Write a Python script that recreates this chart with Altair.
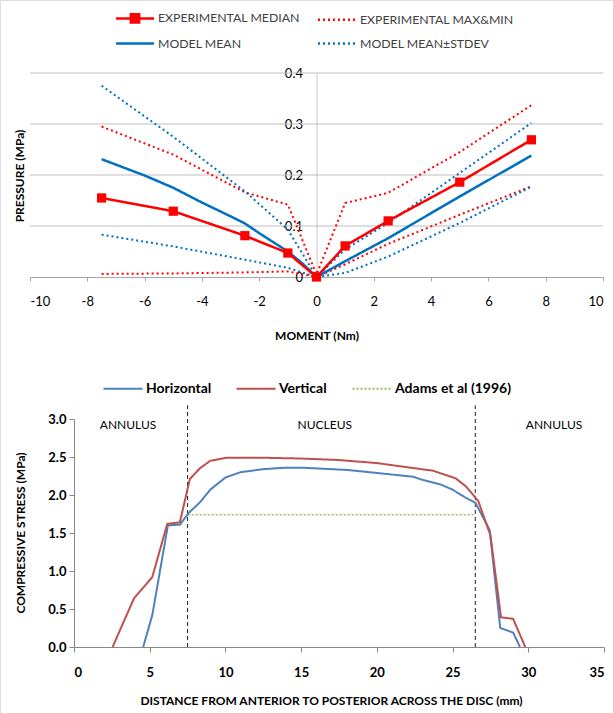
import altair as alt
import pandas as pd

# ---------------- top chart data (pressure vs moment) ----------------
moment_exp = [-7.5, -5, -2.5, -1, 0, 1, 2.5, 5, 7.5]
exp_median = [0.155, 0.129, 0.081, 0.047, 0.0, 0.061, 0.110, 0.186, 0.269]
exp_max = [0.295, 0.240, 0.166, 0.142, 0.005, 0.145, 0.165, 0.245, 0.337]
exp_min = [0.006, 0.007, 0.009, 0.011, 0.0, 0.025, 0.065, 0.122, 0.178]
moment_model = [-7.5, -6, -5, -4, -3, -2.5, -2, -1, -0.5, 0, 1, 2.5, 5, 7.5]
model_mean = [0.231, 0.199, 0.175, 0.146, 0.119, 0.105, 0.086, 0.050, 0.027, 0.0, 0.031, 0.076, 0.158, 0.238]
model_upper = [0.375, 0.275, 0.168, 0.093, 0.0, 0.054, 0.106, 0.204, 0.302]
model_lower = [0.083, 0.060, 0.034, 0.018, 0.0, 0.008, 0.040, 0.106, 0.177]

top_series = ["EXPERIMENTAL MEDIAN", "EXPERIMENTAL MAX&MIN", "MODEL MEAN", "MODEL MEAN±STDEV"]
top_colors = ["#FF0000", "#FF0000", "#0070C0", "#0070C0"]
top_dashes = [[1, 0], [2, 3], [1, 0], [2, 3]]
moment_ticks = [-10, -8, -6, -4, -2, 0, 2, 4, 6, 8, 10]
pressure_ticks = [0, 0.1, 0.2, 0.3, 0.4]
pressure_grid = [0.1, 0.2, 0.3, 0.4]

# ---------------- bottom chart data (stress across disc) ----------------
horiz_x = [4.57, 5.17, 6.2, 7.0, 7.6, 8.3, 9.0, 10.0, 11.0, 12.5, 14.0, 15.0, 18.0, 20.0,
           22.4, 23.0, 24.2, 25.0, 25.9, 26.5, 27.45, 28.15, 29.0, 29.45]
horiz_y = [0.0, 0.42, 1.60, 1.61, 1.77, 1.90, 2.07, 2.23, 2.30, 2.34, 2.36, 2.36, 2.33, 2.29,
           2.24, 2.20, 2.14, 2.07, 1.96, 1.90, 1.54, 0.25, 0.19, 0.0]
vert_x = [2.55, 3.96, 5.17, 6.16, 6.99, 7.65, 8.31, 9.0, 10.07, 12.5, 15.0, 17.5, 20.0,
          22.2, 23.7, 25.2, 25.9, 26.7, 27.5, 28.2, 29.0, 29.8]
vert_y = [0.0, 0.64, 0.92, 1.62, 1.64, 2.21, 2.35, 2.45, 2.49, 2.49, 2.48, 2.46, 2.42,
          2.36, 2.32, 2.22, 2.11, 1.92, 1.47, 0.39, 0.37, 0.0]
adams_x = [7.5, 26.5]
adams_y = [1.74, 1.74]
divider_x = [7.5, 26.5]
region_labels = ["ANNULUS", "NUCLEUS", "ANNULUS"]
region_x = [3.57, 16.56, 31.7]
region_y = [2.92, 2.92, 2.92]

bot_series = ["Horizontal", "Vertical", "Adams et al (1996)"]
bot_colors = ["#4F81BD", "#C0504D", "#9BBB59"]
bot_dashes = [[1, 0], [1, 0], [2, 2]]
dist_ticks = [0, 5, 10, 15, 20, 25, 30, 35]
stress_ticks = [0, 0.5, 1.0, 1.5, 2.0, 2.5, 3.0]

FONT = "Lato"

# ---------------- build tables ----------------
rows = []
for x, y in zip(moment_exp, exp_median):
    rows.append((x, y, top_series[0], "med"))
for x, y in zip(moment_exp, exp_max):
    rows.append((x, y, top_series[1], "max"))
for x, y in zip(moment_exp, exp_min):
    rows.append((x, y, top_series[1], "min"))
for x, y in zip(moment_model, model_mean):
    rows.append((x, y, top_series[2], "mean"))
for x, y in zip(moment_exp, model_upper):
    rows.append((x, y, top_series[3], "up"))
for x, y in zip(moment_exp, model_lower):
    rows.append((x, y, top_series[3], "low"))
df_top = pd.DataFrame(rows, columns=["moment", "pressure", "series", "line"])

rows = []
for x, y in zip(horiz_x, horiz_y):
    rows.append((x, y, bot_series[0]))
for x, y in zip(vert_x, vert_y):
    rows.append((x, y, bot_series[1]))
for x, y in zip(adams_x, adams_y):
    rows.append((x, y, bot_series[2]))
df_bot = pd.DataFrame(rows, columns=["dist", "stress", "series"])
df_div = pd.DataFrame({"pos": divider_x})
df_reg = pd.DataFrame({"label": region_labels, "x": region_x, "y": region_y})
df_grid = pd.DataFrame({"g": pressure_grid})

# ---------------- page geometry (pixels in the 613x713 canvas) ----------------
W, H = 613, 713
TOP_X = [30, 603]      # plot area of the upper panel
TOP_Y = [277, 73]
BOT_X = [74, 604]      # plot area of the lower panel
BOT_Y = [647, 419]

# ---------------- top panel ----------------
xs_top = alt.Scale(domain=[-10, 10], nice=False, zero=False, range=TOP_X)
ys_top = alt.Scale(domain=[0, 0.4], nice=False, range=TOP_Y)
x_axis_top = alt.Axis(orient="bottom", offset=TOP_Y[0] - H, values=moment_ticks,
                      labelExpr="'' + datum.value", title="MOMENT (Nm)",
                      titleFont=FONT, titleFontWeight="bold", titleFontSize=12, titlePadding=21.6,
                      titleColor="#000000", labelFont=FONT, labelFontSize=13, labelPadding=14.4,
                      labelColor="#000000", tickSize=4, tickColor="#A6A6A6",
                      domainColor="#A6A6A6", grid=False)
y_axis_top = alt.Axis(orient="left", offset=-(TOP_X[0] + TOP_X[1]) / 2, values=pressure_ticks,
                      format=".1~f", title=None, ticks=False, labelFont=FONT, labelFontSize=13,
                      labelPadding=14, labelColor="#000000", domainColor="#C8C8C8", grid=False)
col_top = alt.Scale(domain=top_series, range=top_colors)
dash_top = alt.Scale(domain=top_series, range=top_dashes)

MEDIAN_PATH = "M-1.5,0H1.5M-0.33,-0.33H0.33V0.33H-0.33Z"
LINE_PATH = "M-1.5,0H1.5"
is_median = "datum.value === 'EXPERIMENTAL MEDIAN'"
legend_top = alt.Legend(
    title=None, orient="none", legendX=121, legendY=4, columns=2, direction="horizontal",
    padding=0, symbolSize=645, symbolStrokeWidth=2.5, labelFont=FONT, labelFontSize=12.3,
    labelColor="#404040", labelOffset=9, columnPadding=12, rowPadding=1.6, labelLimit=400,
    symbolType={"expr": is_median + " ? '" + MEDIAN_PATH + "' : '" + LINE_PATH + "'"},
    symbolFillColor={"expr": is_median + " ? '#FF0000' : 'transparent'"},
)

gridlines = alt.Chart(df_grid).mark_rule(color="#BFBFBF", strokeWidth=1).encode(
    x=alt.X(datum=-10, scale=xs_top, axis=x_axis_top),
    x2=alt.datum(10),
    y=alt.Y("g:Q", scale=ys_top, axis=y_axis_top),
)


def top_lines(data, width):
    return alt.Chart(data).mark_line(strokeWidth=width).encode(
        x=alt.X("moment:Q", scale=xs_top, axis=x_axis_top),
        y=alt.Y("pressure:Q", scale=ys_top, axis=y_axis_top),
        color=alt.Color("series:N", scale=col_top, legend=legend_top),
        strokeDash=alt.StrokeDash("series:N", scale=dash_top, legend=legend_top),
        detail="line:N",
    )


dotted = top_lines(df_top[df_top["series"].isin([top_series[1], top_series[3]])], 2)
blue_solid = top_lines(df_top[df_top["series"] == top_series[2]], 2.5)
red_solid = top_lines(df_top[df_top["series"] == top_series[0]], 2.5)
squares = alt.Chart(df_top[df_top["series"] == top_series[0]]).mark_point(
    shape="square", filled=True, size=85, opacity=1, color="#FF0000"
).encode(
    x=alt.X("moment:Q", scale=xs_top, axis=x_axis_top),
    y=alt.Y("pressure:Q", scale=ys_top, axis=y_axis_top),
)
ytitle_top = alt.Chart(pd.DataFrame({"t": ["PRESSURE (MPa)"]})).mark_text(
    angle=270, font=FONT, fontSize=12, fontWeight="bold", color="#000000"
).encode(x=alt.value(20), y=alt.value(176), text="t:N")

top = alt.layer(gridlines, dotted, blue_solid, red_solid, squares, ytitle_top)

# ---------------- bottom panel ----------------
xs_bot = alt.Scale(domain=[0, 35], nice=False, range=BOT_X)
ys_bot = alt.Scale(domain=[0, 3], nice=False, range=BOT_Y)
x_axis_bot = alt.Axis(orient="bottom", offset=BOT_Y[0] - H, values=dist_ticks, format="d",
                      title="DISTANCE FROM ANTERIOR TO POSTERIOR ACROSS THE DISC (mm)",
                      titleFont=FONT, titleFontWeight="bold", titleFontSize=12, titlePadding=16,
                      titleColor="#000000", titleX=331, labelFont=FONT, labelFontSize=13,
                      labelFontWeight="bold", labelPadding=14, labelColor="#000000",
                      tickSize=5, tickColor="#868686", domainColor="#868686", grid=False)
y_axis_bot = alt.Axis(orient="left", offset=-BOT_X[0], values=stress_ticks, format=".1f",
                      title=None, labelFont=FONT, labelFontSize=13, labelFontWeight="bold",
                      labelPadding=3, labelColor="#000000", tickSize=5, tickColor="#868686",
                      domainColor="#868686", grid=False)
col_bot = alt.Scale(domain=bot_series, range=bot_colors)
dash_bot = alt.Scale(domain=bot_series, range=bot_dashes)
legend_bot = alt.Legend(
    title=None, orient="none", legendX=108.5, legendY=374, columns=3,
    direction="horizontal", padding=0, symbolType=LINE_PATH, symbolSize=676,
    symbolStrokeWidth=2.2, labelLimit=400, labelFont=FONT, labelFontSize=14,
    labelFontWeight="bold", labelColor="#000000", labelOffset=8.5, columnPadding=20,
)


def bot_lines(data, width):
    return alt.Chart(data).mark_line(strokeWidth=width).encode(
        x=alt.X("dist:Q", scale=xs_bot, axis=x_axis_bot),
        y=alt.Y("stress:Q", scale=ys_bot, axis=y_axis_bot),
        color=alt.Color("series:N", scale=col_bot, legend=legend_bot),
        strokeDash=alt.StrokeDash("series:N", scale=dash_bot, legend=legend_bot),
    )


blue_b = bot_lines(df_bot[df_bot["series"] == bot_series[0]], 2)
red_b = bot_lines(df_bot[df_bot["series"] == bot_series[1]], 2)
green_b = bot_lines(df_bot[df_bot["series"] == bot_series[2]], 1.5)
dividers = alt.Chart(df_div).mark_rule(color="#222222", strokeWidth=1, strokeDash=[4, 3]).encode(
    x=alt.X("pos:Q", scale=xs_bot, axis=x_axis_bot),
    y=alt.Y(datum=0, scale=ys_bot, axis=y_axis_bot),
    y2=alt.datum(3.18),
)
regions = alt.Chart(df_reg).mark_text(font=FONT, fontSize=12, color="#000000").encode(
    x=alt.X("x:Q", scale=xs_bot, axis=x_axis_bot),
    y=alt.Y("y:Q", scale=ys_bot, axis=y_axis_bot),
    text="label:N",
)
ytitle_bot = alt.Chart(pd.DataFrame({"t": ["COMPRESSIVE STRESS (MPa)"]})).mark_text(
    angle=270, font=FONT, fontSize=12, fontWeight="bold", color="#000000"
).encode(x=alt.value(21), y=alt.value(533), text="t:N")

bottom = alt.layer(dividers, green_b, blue_b, red_b, regions, ytitle_bot)

chart = alt.layer(top, bottom).resolve_scale(
    x="independent", y="independent", color="independent", strokeDash="independent"
).resolve_axis(
    x="independent", y="independent"
).resolve_legend(
    color="independent", strokeDash="independent"
).properties(
    width=W, height=H, padding=0, autosize=alt.AutoSizeParams(type="none")
).configure_view(stroke=None).configure(font=FONT)

chart.save("out.html", embed_options={"renderer": "svg", "actions": False})
